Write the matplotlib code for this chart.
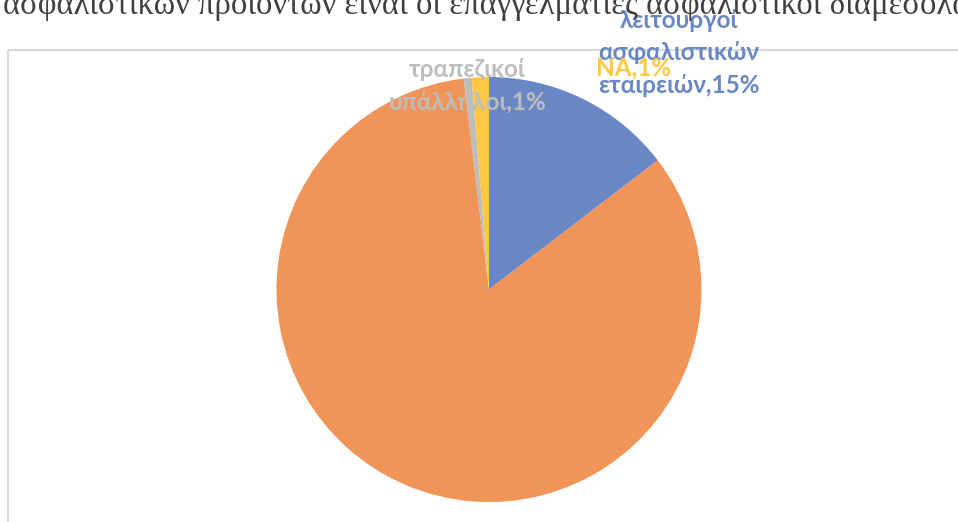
import matplotlib
matplotlib.use("Agg")
import matplotlib.pyplot as plt
from matplotlib.patches import Rectangle

# pie data: share of each source, clockwise from 12 o'clock
labels = [
    "λειτουργοί\nασφαλιστικών\nεταιρειών",
    "επαγγελματίες ασφαλιστικοί διαμεσολαβητές",
    "τραπεζικοί\nυπάλληλοι",
    "NA",
]
shares = [14.6, 83.5, 0.6, 1.3]
colors = ["#6A87C5", "#F09457", "#BDBDBD", "#FFC843"]
show_label = [True, False, True, True]

title = ("ασφαλιστικών προϊόντων είναι οι επαγγελματίες "
         "ασφαλιστικοί διαμεσολαβητές")

W, H = 958, 522
fig = plt.figure(figsize=(W / 100, H / 100), dpi=100)


def px(x, y):
    # pixel position (from the top-left corner) to figure fraction
    return x / W, 1 - y / H


# chart frame, open to the right and bottom
fig.patches.append(Rectangle(px(8, 50), 2.0, -1.0, transform=fig.transFigure,
                             fill=False, edgecolor="#D9D9D9", linewidth=1.5))

cx, cy, r = 489, 289.5, 212.5
ax = fig.add_axes([(cx - r) / W, (H - cy - r) / H, 2 * r / W, 2 * r / H])
ax.pie(shares, colors=colors, startangle=90, counterclock=False, radius=1.0,
       wedgeprops=dict(linewidth=0))
ax.set_xlim(-1, 1)
ax.set_ylim(-1, 1)
ax.set_aspect("equal")
ax.axis("off")

# data labels (name, percentage) placed above the pie
label_pos = [(679, 53), None, (467, 86), (634, 68)]
for name, val, col, pos, show in zip(labels, shares, colors, label_pos, show_label):
    if not show:
        continue
    fig.text(*px(*pos), f"{name},{val:.0f}%", color=col, ha="center", va="center",
             fontsize=17.5, fontweight="bold", family=["Lato", "DejaVu Sans"],
             linespacing=1.5, multialignment="center")

fig.text(*px(3, 14), title, ha="left", va="baseline", fontsize=23.5,
         color="#404040", family=["Liberation Serif", "DejaVu Serif"])

fig.savefig("out.png", dpi=100)
